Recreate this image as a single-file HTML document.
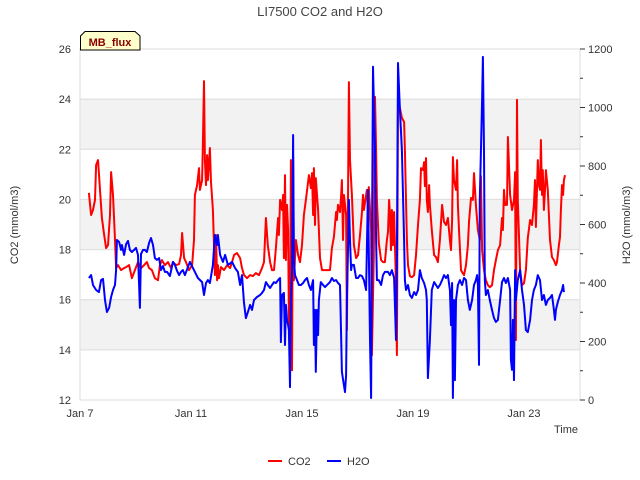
<!DOCTYPE html>
<html><head><meta charset="utf-8"><style>
body{margin:0;background:#fff;}
svg{display:block;font-family:"Liberation Sans",sans-serif;}
</style></head><body>
<svg id="chart" width="640" height="480">
<g id="bands"></g><g id="grid"></g>
<rect x="80" y="49" width="500" height="351" fill="none" stroke="#ddd"/>
<g id="ticks"></g>
<g id="series"></g>
<text x="320" y="16" text-anchor="middle" font-size="13" fill="#444">LI7500 CO2 and H2O</text>
<text transform="translate(18,225) rotate(-90)" text-anchor="middle" font-size="11" fill="#333">CO2 (mmol/m3)</text>
<text transform="translate(630,225) rotate(-90)" text-anchor="middle" font-size="11" fill="#333">H2O (mmol/m3)</text>
<text x="578" y="433" text-anchor="end" font-size="11" fill="#333">Time</text>
<g>
<path d="M80.5,50 L80.5,36 L85,31.5 L135,31.5 L140,36 L140,50 Z" fill="#ffffcc" stroke="#000" stroke-width="1"/>
<text x="110" y="46" text-anchor="middle" font-size="11" font-weight="bold" fill="#8b0000">MB_flux</text>
</g>
<g>
<g><line x1="268" y1="461" x2="282" y2="461" stroke="#f00" stroke-width="2"/><text x="288" y="465" font-size="11" fill="#333">CO2</text></g>
<g><line x1="327" y1="461" x2="341" y2="461" stroke="#00f" stroke-width="2"/><text x="347" y="465" font-size="11" fill="#333">H2O</text></g>
</g>
</svg>
<script>
const co2Days=[7.32,7.40,7.47,7.54,7.58,7.65,7.68,7.72,7.79,7.86,7.94,8.01,8.08,8.12,8.19,8.26,8.30,8.37,8.48,8.59,8.66,8.77,8.87,8.98,9.09,9.20,9.31,9.41,9.49,9.59,9.70,9.81,9.88,9.95,10.06,10.17,10.28,10.35,10.46,10.57,10.64,10.68,10.75,10.82,10.93,11.04,11.11,11.14,11.22,11.29,11.32,11.40,11.43,11.47,11.50,11.54,11.58,11.61,11.68,11.72,11.79,11.83,11.86,11.90,11.94,11.97,12.01,12.08,12.19,12.30,12.41,12.48,12.55,12.66,12.77,12.84,12.91,13.02,13.13,13.23,13.34,13.45,13.56,13.63,13.70,13.77,13.85,13.92,13.99,14.06,14.14,14.17,14.21,14.28,14.32,14.35,14.39,14.42,14.46,14.50,14.53,14.57,14.60,14.64,14.68,14.71,14.78,14.86,14.93,15.00,15.07,15.14,15.25,15.32,15.36,15.40,15.43,15.47,15.50,15.58,15.65,15.72,16.01,16.08,16.15,16.23,16.26,16.30,16.37,16.41,16.44,16.48,16.51,16.59,16.62,16.66,16.69,16.73,16.80,16.87,16.95,17.02,17.09,17.16,17.20,17.23,17.31,17.34,17.38,17.41,17.45,17.49,17.52,17.59,17.63,17.67,17.70,17.77,17.85,17.92,17.99,18.06,18.10,18.14,18.17,18.21,18.24,18.28,18.32,18.39,18.42,18.46,18.53,18.60,18.68,18.71,18.75,18.78,18.82,18.89,18.96,19.04,19.11,19.18,19.25,19.29,19.36,19.40,19.43,19.47,19.50,19.54,19.58,19.61,19.68,19.76,19.83,19.90,19.97,20.05,20.12,20.19,20.26,20.33,20.37,20.41,20.44,20.48,20.55,20.59,20.62,20.66,20.73,20.77,20.84,20.91,20.98,21.02,21.09,21.16,21.20,21.27,21.34,21.41,21.45,21.49,21.56,21.63,21.70,21.77,21.85,21.92,21.99,22.06,22.14,22.21,22.24,22.28,22.32,22.39,22.42,22.50,22.57,22.64,22.68,22.71,22.75,22.78,22.86,22.93,23.00,23.07,23.14,23.22,23.29,23.36,23.40,23.43,23.50,23.54,23.58,23.61,23.65,23.68,23.72,23.76,23.79,23.86,23.94,24.01,24.08,24.15,24.19,24.26,24.30,24.33,24.37,24.41,24.44,24.48];
const co2Vals=[20.26,19.38,19.58,19.98,21.37,21.57,21.05,20.38,19.26,18.66,18.06,18.18,19.38,21.09,20.18,18.38,17.26,17.38,17.18,17.26,17.30,17.38,16.86,17.18,17.50,17.26,17.38,17.50,17.26,17.18,16.86,16.78,17.38,17.58,17.38,17.50,17.26,17.50,17.38,17.42,17.78,18.66,17.66,17.50,17.18,17.38,18.38,20.18,20.57,21.25,20.38,20.77,22.25,24.72,21.57,20.57,21.77,20.77,22.05,20.69,19.58,18.18,16.98,18.58,16.78,17.38,16.86,17.30,17.18,17.38,17.26,17.50,17.78,17.86,17.66,17.26,16.98,16.86,16.98,16.94,17.06,16.98,17.26,17.50,19.26,18.18,17.50,17.18,17.18,18.06,19.26,18.58,19.98,19.58,20.18,17.66,20.97,17.58,19.78,18.78,15.19,13.79,21.57,13.19,21.69,16.78,18.38,17.78,17.50,18.18,19.38,19.98,20.97,20.45,21.05,19.38,21.25,18.98,20.85,19.58,17.66,17.18,17.18,18.06,18.50,19.50,19.18,19.78,19.50,20.14,20.77,18.38,20.18,19.38,14.79,19.98,24.68,21.57,20.18,18.18,17.66,17.78,18.58,19.46,20.18,19.58,20.18,20.38,19.58,20.49,19.58,18.78,13.79,17.78,24.09,21.97,19.98,18.26,17.58,17.50,17.50,18.38,18.70,19.98,19.46,17.98,19.58,18.18,19.50,16.58,13.79,23.97,23.65,23.25,23.09,21.97,19.98,18.38,17.38,16.94,16.90,16.98,17.78,18.98,19.98,21.25,21.17,21.49,20.53,21.65,19.98,19.50,20.57,19.78,18.78,17.78,17.70,17.50,18.38,19.78,19.10,18.98,19.26,18.38,17.98,19.18,21.69,20.77,20.38,21.57,19.78,18.78,17.18,17.10,16.98,17.38,18.18,19.10,20.06,19.98,21.05,19.78,18.78,18.38,20.93,17.98,17.18,16.78,16.58,16.50,16.58,17.18,17.58,17.98,18.18,19.26,18.78,20.38,19.78,19.78,22.49,20.18,19.58,19.98,21.09,14.39,23.97,19.98,17.18,16.58,16.66,17.18,18.46,19.18,18.98,19.78,20.77,18.90,21.57,20.57,20.38,22.37,20.18,21.17,19.58,20.38,21.17,20.38,18.38,17.70,17.58,17.38,17.50,18.18,18.50,19.58,20.57,20.18,20.77,20.97];
const h2oDays=[7.32,7.40,7.47,7.58,7.68,7.76,7.83,7.90,7.97,8.05,8.12,8.19,8.26,8.30,8.33,8.41,8.48,8.51,8.59,8.66,8.73,8.80,8.87,8.95,9.02,9.09,9.16,9.20,9.27,9.34,9.41,9.49,9.56,9.63,9.70,9.77,9.85,9.92,9.99,10.06,10.14,10.24,10.35,10.42,10.50,10.57,10.64,10.71,10.78,10.96,11.14,11.25,11.40,11.47,11.54,11.61,11.68,11.79,11.86,11.94,11.97,12.05,12.15,12.23,12.33,12.48,12.59,12.69,12.77,12.84,12.91,12.98,13.05,13.13,13.20,13.27,13.38,13.49,13.56,13.63,13.70,13.77,13.85,13.92,13.99,14.06,14.14,14.21,14.24,14.28,14.35,14.39,14.42,14.46,14.50,14.53,14.57,14.60,14.64,14.68,14.71,14.75,14.82,14.89,14.96,15.04,15.11,15.18,15.25,15.32,15.40,15.43,15.47,15.50,15.54,15.58,15.61,15.68,15.76,15.83,16.01,16.08,16.15,16.23,16.30,16.37,16.44,16.51,16.55,16.59,16.62,16.66,16.69,16.73,16.77,16.80,16.87,16.95,17.02,17.09,17.16,17.23,17.31,17.38,17.45,17.49,17.56,17.59,17.63,17.67,17.70,17.77,17.85,17.92,17.99,18.10,18.17,18.24,18.32,18.39,18.42,18.46,18.53,18.60,18.68,18.71,18.75,18.82,18.89,18.96,19.04,19.11,19.18,19.25,19.32,19.40,19.47,19.50,19.54,19.61,19.68,19.76,19.83,19.90,19.97,20.05,20.12,20.19,20.26,20.33,20.37,20.41,20.44,20.48,20.51,20.55,20.62,20.69,20.77,20.84,20.91,20.98,21.05,21.13,21.20,21.27,21.31,21.34,21.38,21.41,21.49,21.52,21.56,21.59,21.63,21.70,21.77,21.85,21.92,21.99,22.06,22.14,22.21,22.28,22.35,22.42,22.50,22.53,22.57,22.60,22.64,22.68,22.71,22.78,22.86,22.93,23.00,23.07,23.14,23.22,23.29,23.36,23.43,23.50,23.58,23.65,23.72,23.79,23.86,23.94,24.01,24.08,24.12,24.15,24.22,24.30,24.37,24.41,24.44];
const h2oVals=[417,427,393,376,369,410,414,342,301,315,352,376,393,444,547,540,513,530,496,533,544,513,506,513,520,496,315,499,513,513,506,537,554,530,485,479,485,444,458,438,438,424,472,462,441,427,438,444,427,472,438,417,403,359,400,410,400,462,564,530,564,496,472,496,462,472,451,438,393,427,332,280,301,325,308,342,352,359,366,376,403,393,383,393,403,400,410,417,198,359,366,188,325,274,256,239,44,342,444,906,479,427,410,393,393,400,410,417,393,376,410,188,308,96,308,222,342,403,393,386,403,417,407,410,400,393,96,51,27,85,342,513,684,547,444,462,462,417,417,427,424,410,376,718,205,7,1139,1026,855,547,410,410,393,427,438,438,427,444,417,205,485,1152,992,855,547,410,376,393,359,349,369,359,376,444,417,400,376,342,75,205,376,403,393,383,393,410,427,417,427,376,256,400,7,342,68,342,393,410,393,417,410,342,308,342,393,410,427,393,120,684,1026,1173,855,410,359,376,342,308,280,267,274,342,403,417,400,417,376,137,103,274,68,444,342,410,444,376,325,239,232,274,342,376,393,427,410,342,359,325,342,349,359,308,274,308,335,359,376,393,369];
const leftTicks=[12,14,16,18,20,22,24,26];
const rightTicks=[0,200,400,600,800,1000,1200];
const xTickDays=[7,11,15,19,23];
const xTickLabels=["Jan 7","Jan 11","Jan 15","Jan 19","Jan 23"];

const NS="http://www.w3.org/2000/svg";
const X0=80,X1=580,Y0=49,Y1=400,D0=7,D1=25.02;
const xS=d=>X0+(d-D0)/(D1-D0)*(X1-X0);
const yL=v=>Y1-(v-12)/(26-12)*(Y1-Y0);
const yR=v=>Y1-v/1200*(Y1-Y0);
function mk(tag,attrs,parent){const e=document.createElementNS(NS,tag);for(const k in attrs)e.setAttribute(k,attrs[k]);parent.appendChild(e);return e;}
const bands=document.getElementById('bands'),grid=document.getElementById('grid'),ticks=document.getElementById('ticks'),series=document.getElementById('series');
for(let i=0;i<leftTicks.length-1;i++){
  if(i%2===1){const b=mk('rect',{x:X0,y:yL(leftTicks[i+1]),width:X1-X0,height:yL(leftTicks[i])-yL(leftTicks[i+1]),fill:'#f2f2f2'},bands);
  
  }
}
leftTicks.forEach(v=>{
  const l=mk('line',{x1:X0,x2:X1,y1:yL(v),y2:yL(v),stroke:'#dcdcdc'},grid);
  
  
  const t=mk('text',{x:X0-9,y:yL(v)+4,'text-anchor':'end','font-size':11,fill:'#333'},ticks);
  t.textContent=v;
  
  
});
for(let v=0;v<=1200;v+=100){
  const l=mk('line',{x1:X1,x2:X1+(v%200===0?5:3),y1:yR(v),y2:yR(v),stroke:'#333'},ticks);
  
  
}
rightTicks.forEach(v=>{
  const t=mk('text',{x:X1+8,y:yR(v)+4,'font-size':11,fill:'#333'},ticks);
  t.textContent=v;
  
  
});
xTickDays.forEach((d,i)=>{
  const t=mk('text',{x:xS(d),y:Y1+17,'text-anchor':'middle','font-size':11,fill:'#333'},ticks);
  t.textContent=xTickLabels[i];
  
  
});
const co2Pts=co2Days.map((d,i)=>xS(d).toFixed(1)+','+yL(co2Vals[i]).toFixed(1)).join(' ');
const co2Line=mk('polyline',{points:co2Pts,fill:'none',stroke:'#ff0000','stroke-width':2,'stroke-linejoin':'round'},series);


const h2oPts=h2oDays.map((d,i)=>xS(d).toFixed(1)+','+yR(h2oVals[i]).toFixed(1)).join(' ');
const h2oLine=mk('polyline',{points:h2oPts,fill:'none',stroke:'#0000ff','stroke-width':2,'stroke-linejoin':'round'},series);


</script>
</body></html>
